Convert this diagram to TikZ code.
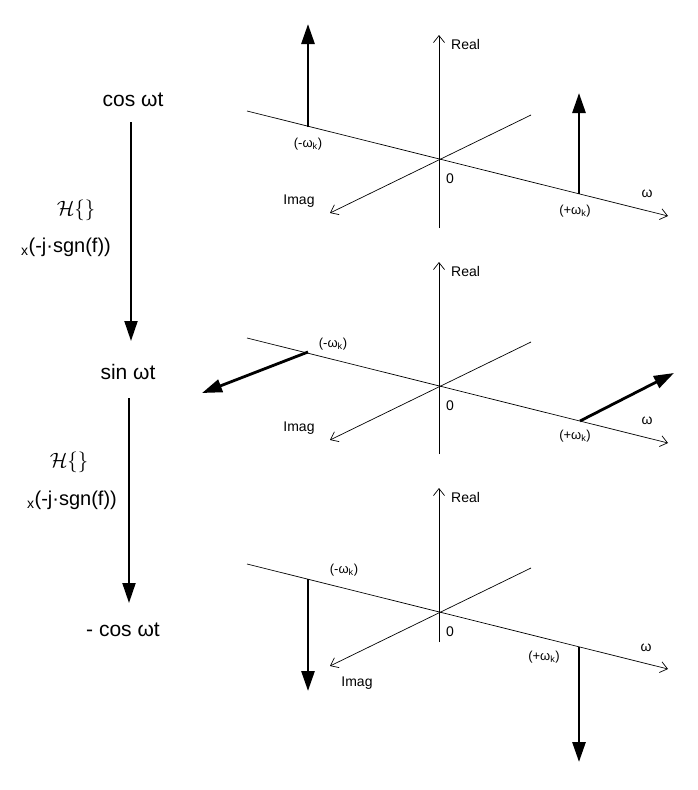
\documentclass[tikz,border=0pt]{standalone}
\usepackage{fontspec}
\setmainfont{Liberation Sans}
\usetikzlibrary{arrows.meta}
\begin{document}
\begin{tikzpicture}[x=1pt,y=-1pt,
  axis/.style={line width=0.7pt,-{Straight Barb[length=7pt,width=11pt,line width=0.7pt]}},
  plain/.style={line width=0.7pt},
  spike/.style={line width=2.8pt,-{Triangle[length=20pt,width=13pt]}},
  flow/.style={line width=2pt,-{Triangle[length=20pt,width=13pt]}},
  big/.style={font=\fontsize{21}{25}\selectfont,anchor=base,inner sep=0pt},
  op/.style={font=\fontsize{20}{24}\selectfont,anchor=base,inner sep=0pt},
  small/.style={font=\fontsize{14}{17}\selectfont,anchor=base,inner sep=0pt},
  tiny/.style={font=\fontsize{13}{16}\selectfont,anchor=base,inner sep=0pt}]
\useasboundingbox (0,0) rectangle (697,790);

% ---------- left column ----------
\node[big] (cos) at (133,106) {cos ωt};
\node[big] (sin) at (128,379) {sin ωt};
\node[big] (mcos) at (123,636) {- cos ωt};
\node[op] (h1) at (76,215) {$\mathcal{H}\{\}$};
\node[op] (m1) at (66,252) {\textsubscript{x}(-j·sgn(f))};
\node[op] (h2) at (69,467) {$\mathcal{H}\{\}$};
\node[op] (m2) at (72,505) {\textsubscript{x}(-j·sgn(f))};
\coordinate (f1s) at (131,122);
\coordinate (f1e) at (131,341);
\coordinate (f2s) at (129,398);
\coordinate (f2e) at (129,603);
\draw[flow] (f1s) -- (f1e);
\draw[flow] (f2s) -- (f2e);

% ---------- panel 1 ----------
\coordinate (o1) at (439,159);
\coordinate (rb1) at (439,228);
\coordinate (rt1) at (439,35);
\coordinate (wl1) at (247,111);
\coordinate (wr1) at (668,216);
\coordinate (iu1) at (531,115);
\coordinate (il1) at (330,213);
\draw[axis] (rb1) -- (rt1);
\draw[axis] (wl1) -- (wr1);
\draw[axis] (iu1) -- (il1);
\node[small,anchor=base west] (real1) at (451,49) {Real};
\node[small] (zero1) at (450,183) {0};
\node[small] (imag1) at (299,204) {Imag};
\node[small] (om1) at (647,197) {ω};
\node[tiny] (nk1) at (308,147) {(-ω\textsubscript{k})};
\node[tiny] (pk1) at (575,214) {(+ω\textsubscript{k})};
\coordinate (a1s) at (308,127);
\coordinate (a1e) at (308,24);
\coordinate (b1s) at (579,194);
\coordinate (b1e) at (579,93);
\draw[spike] (a1s) -- (a1e);
\draw[spike] (b1s) -- (b1e);

% ---------- panel 2 ----------
\coordinate (o2) at (439,386);
\coordinate (rb2) at (439,454);
\coordinate (rt2) at (439,262);
\coordinate (wl2) at (247,338);
\coordinate (wr2) at (668,443);
\coordinate (iu2) at (531,342);
\coordinate (il2) at (330,440);
\draw[axis] (rb2) -- (rt2);
\draw[axis] (wl2) -- (wr2);
\draw[axis] (iu2) -- (il2);
\node[small,anchor=base west] (real2) at (451,276) {Real};
\node[small] (zero2) at (450,410) {0};
\node[small] (imag2) at (299,431) {Imag};
\node[small] (om2) at (647,424) {ω};
\node[tiny] (nk2) at (333,347) {(-ω\textsubscript{k})};
\node[tiny] (pk2) at (575,439) {(+ω\textsubscript{k})};
\coordinate (a2s) at (308,352);
\coordinate (a2e) at (202,393);
\coordinate (b2s) at (580,421);
\coordinate (b2e) at (674,373);
\draw[spike] (a2s) -- (a2e);
\draw[spike] (b2s) -- (b2e);

% ---------- panel 3 ----------
\coordinate (o3) at (439,612);
\coordinate (rb3) at (439,642);
\coordinate (rt3) at (439,488);
\coordinate (wl3) at (247,564);
\coordinate (wr3) at (668,669);
\coordinate (iu3) at (531,568);
\coordinate (il3) at (330,666);
\draw[axis] (rb3) -- (rt3);
\draw[axis] (wl3) -- (wr3);
\draw[axis] (iu3) -- (il3);
\node[small,anchor=base west] (real3) at (451,502) {Real};
\node[small] (zero3) at (450,636) {0};
\node[small] (imag3) at (357,686) {Imag};
\node[small] (om3) at (646,651) {ω};
\node[tiny] (nk3) at (344,573) {(-ω\textsubscript{k})};
\node[tiny] (pk3) at (544,660) {(+ω\textsubscript{k})};
\coordinate (a3s) at (308,579);
\coordinate (a3e) at (308,691);
\coordinate (b3s) at (579,647);
\coordinate (b3e) at (579,762);
\draw[spike] (a3s) -- (a3e);
\draw[spike] (b3s) -- (b3e);
\end{tikzpicture}
\end{document}
